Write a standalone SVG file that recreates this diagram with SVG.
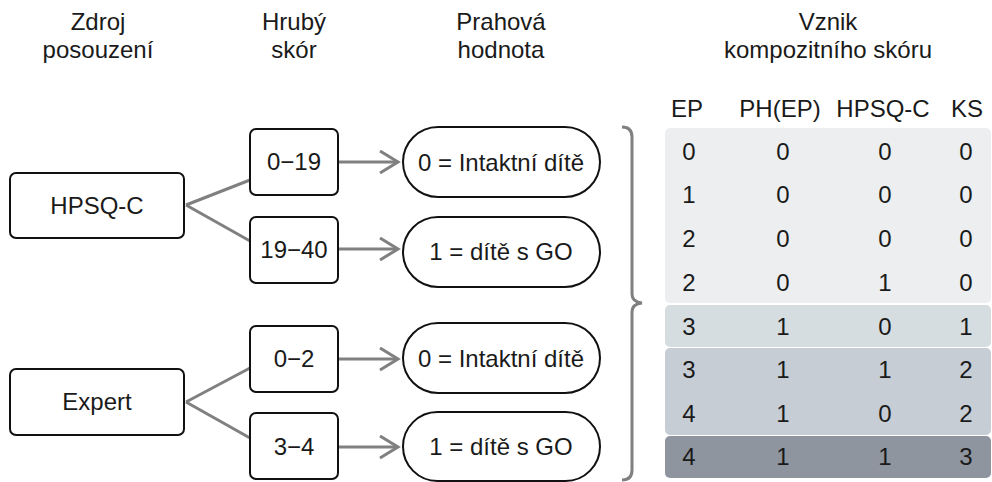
<svg xmlns="http://www.w3.org/2000/svg" width="992" height="482" viewBox="0 0 992 482">
<style>
text{font-family:"Liberation Sans",Arial,sans-serif;font-size:24px;fill:#1a1a1a;text-anchor:middle}
.box{fill:#fff;stroke:#111;stroke-width:2}
.conn{fill:none;stroke:#808080;stroke-width:3}
.brace{fill:none;stroke:#808080;stroke-width:3}
</style>
<defs>
<marker id="arr" markerWidth="22" markerHeight="26" refX="19" refY="12" orient="auto" markerUnits="userSpaceOnUse">
<path d="M1,1 L19,12 L1,23" fill="none" stroke="#808080" stroke-width="3"/>
</marker>
</defs>
<g id="headers">
<text x="98" y="30">Zdroj</text><text x="98" y="58">posouzení</text>
<text x="294" y="30">Hrubý</text><text x="294" y="58">skór</text>
<text x="501" y="30">Prahová</text><text x="501" y="58">hodnota</text>
<text x="828" y="30">Vznik</text><text x="828" y="58">kompozitního skóru</text>
</g>
<g id="connectors">
<path class="conn" d="M186,205 L250,180 M186,205 L250,241"/>
<path class="conn" d="M186,402 L250,368 M186,402 L250,438"/>
<line class="conn" x1="338" y1="162" x2="398" y2="162" marker-end="url(#arr)"/>
<line class="conn" x1="338" y1="249" x2="398" y2="249" marker-end="url(#arr)"/>
<line class="conn" x1="338" y1="359" x2="398" y2="359" marker-end="url(#arr)"/>
<line class="conn" x1="338" y1="447" x2="398" y2="447" marker-end="url(#arr)"/>
<path class="brace" d="M622,127 Q632,127 632,137 L632,294 Q632,302 642,303 Q632,304 632,312 L632,470 Q632,480 622,480"/>
</g>
<g id="hpsqc"><rect class="box" x="10" y="173" width="174" height="65" rx="6"/><text x="97" y="214">HPSQ-C</text></g>
<g id="expert"><rect class="box" x="10" y="369" width="174" height="66" rx="6"/><text x="97" y="410">Expert</text></g>
<g id="r0-19"><rect class="box" x="250" y="129" width="88" height="66" rx="6"/><text x="294" y="170">0−19</text></g>
<g id="r19-40"><rect class="box" x="250" y="217" width="88" height="66" rx="6"/><text x="294" y="258">19−40</text></g>
<g id="r0-2"><rect class="box" x="250" y="326" width="88" height="66" rx="6"/><text x="294" y="367">0−2</text></g>
<g id="r3-4"><rect class="box" x="250" y="413" width="88" height="66" rx="6"/><text x="294" y="455">3−4</text></g>
<g id="t1"><rect class="box" x="403" y="127" width="197" height="70" rx="35"/><text x="501" y="171">0 = Intaktní dítě</text></g>
<g id="t2"><rect class="box" x="403" y="217" width="197" height="70" rx="35"/><text x="501" y="260">1 = dítě s GO</text></g>
<g id="t3"><rect class="box" x="403" y="323" width="197" height="70" rx="35"/><text x="501" y="367">0 = Intaktní dítě</text></g>
<g id="t4"><rect class="box" x="403" y="412" width="197" height="69" rx="34.5"/><text x="501" y="455">1 = dítě s GO</text></g>
<g id="table">
<rect x="665" y="128" width="326" height="175" rx="5" fill="#eceef0"/>
<rect x="665" y="305" width="326" height="42" rx="5" fill="#d6dde1"/>
<rect x="665" y="348" width="326" height="87" rx="5" fill="#c6cdd5"/>
<rect x="665" y="436" width="326" height="42" rx="5" fill="#8f959f"/>
<text x="687" y="117">EP</text><text x="780" y="117">PH(EP)</text><text x="883" y="117">HPSQ-C</text><text x="967" y="117">KS</text>
<text x="689" y="160">0</text><text x="783" y="160">0</text><text x="885" y="160">0</text><text x="966" y="160">0</text>
<text x="689" y="203">1</text><text x="783" y="203">0</text><text x="885" y="203">0</text><text x="966" y="203">0</text>
<text x="689" y="247">2</text><text x="783" y="247">0</text><text x="885" y="247">0</text><text x="966" y="247">0</text>
<text x="689" y="291">2</text><text x="783" y="291">0</text><text x="885" y="291">1</text><text x="966" y="291">0</text>
<text x="689" y="335">3</text><text x="783" y="335">1</text><text x="885" y="335">0</text><text x="966" y="335">1</text>
<text x="689" y="378">3</text><text x="783" y="378">1</text><text x="885" y="378">1</text><text x="966" y="378">2</text>
<text x="689" y="422">4</text><text x="783" y="422">1</text><text x="885" y="422">0</text><text x="966" y="422">2</text>
<text x="689" y="465">4</text><text x="783" y="465">1</text><text x="885" y="465">1</text><text x="966" y="465">3</text>
</g>
</svg>
